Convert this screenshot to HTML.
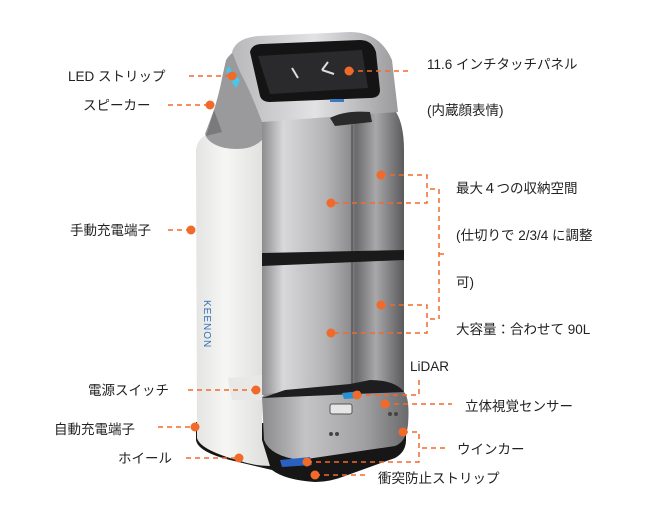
<!DOCTYPE html>
<html><head><meta charset="utf-8"><style>
html,body{margin:0;padding:0;background:#fff;}
svg{display:block}
text{font-family:"Liberation Sans","Noto Sans CJK JP",sans-serif;font-size:13.5px;fill:#222;}
</style></head><body>
<svg width="650" height="522" viewBox="0 0 650 522" xmlns="http://www.w3.org/2000/svg">
<defs>
<linearGradient id="silver" x1="0" x2="1" y1="0" y2="0">
<stop offset="0" stop-color="#8c8c8e"/><stop offset="0.15" stop-color="#d8d8da"/><stop offset="0.45" stop-color="#b4b4b6"/><stop offset="0.62" stop-color="#8e8e90"/><stop offset="0.66" stop-color="#6a6a6c"/><stop offset="0.8" stop-color="#a8a8aa"/><stop offset="1" stop-color="#5a5a5c"/>
</linearGradient>
<linearGradient id="white" x1="0" x2="1" y1="0" y2="0">
<stop offset="0" stop-color="#e4e4e2"/><stop offset="0.4" stop-color="#f6f6f4"/><stop offset="1" stop-color="#dcdcda"/>
</linearGradient>
<linearGradient id="base" x1="0" x2="1" y1="0" y2="0">
<stop offset="0" stop-color="#8a8a8c"/><stop offset="0.3" stop-color="#c4c4c6"/><stop offset="0.7" stop-color="#a0a0a2"/><stop offset="1" stop-color="#6a6a6c"/>
</linearGradient>
<linearGradient id="head" x1="0" x2="1" y1="0" y2="0">
<stop offset="0" stop-color="#b8b8ba"/><stop offset="0.5" stop-color="#e2e2e4"/><stop offset="1" stop-color="#9a9a9c"/>
</linearGradient>
</defs>

<!-- black base -->
<path d="M196,422 L196,440 Q198,452 230,460 L272,470 Q285,480 315,482 Q330,482 345,476 L395,458 Q406,452 406,440 L406,425 Z" fill="#161616"/>
<!-- white back panel -->
<path d="M196,150 Q198,135 212,134 L262,128 L262,440 L270,466 Q255,466 240,461 Q200,450 197,438 Z" fill="url(#white)"/>
<!-- handle/speaker area -->
<path d="M226,60 Q236,44 262,44 L262,140 Q250,152 225,148 Q208,144 205,134 L214,110 Q220,90 222,78 Z" fill="#9a9a9c"/>
<path d="M214,110 L222,132 L206,136 Z" fill="#7a7a7c"/>
<path d="M229,66 Q233,74 240,80 L236,88 Q230,80 226,70 Z" fill="#49c6ec"/>
<!-- main silver body -->
<path d="M262,118 L396,112 Q404,125 404,150 L404,395 L262,395 Z" fill="url(#silver)"/>
<line x1="352" y1="125" x2="352" y2="395" stroke="#5a5a5c" stroke-width="1.5"/>
<path d="M262,253 L404,250 L404,260 L262,266 Z" fill="#1a1a1a"/>
<path d="M228,378 L262,375 L262,400 L232,400 Z" fill="#e8e8e6"/>
<!-- head -->
<path d="M232,52 Q236,38 258,36 L350,32 Q380,32 392,60 L398,112 L262,122 Q250,90 240,72 Z" fill="url(#head)"/>
<path d="M250,52 Q252,44 262,44 L360,40 Q372,40 376,52 L380,90 Q380,98 370,98 L270,102 Q262,102 260,96 Z" fill="#141414"/>
<path d="M258,56 L362,50 L368,88 L270,94 Z" fill="#2a2a2c"/>
<line x1="292" y1="68" x2="298" y2="78" stroke="#ddd" stroke-width="2"/>
<path d="M322,70 L328,62 M322,70 L334,74" stroke="#ddd" stroke-width="2" fill="none"/>
<rect x="330" y="99" width="14" height="3" fill="#3a7ac0"/>
<path d="M330,118 Q345,110 370,112 L372,122 L335,126 Z" fill="#2a2a2a"/>
<!-- base silver -->
<path d="M262,398 Q262,394 272,393 L404,392 Q410,398 408,425 Q406,442 395,446 L300,460 Q270,456 264,440 Z" fill="url(#base)"/>
<path d="M262,398 L404,392 Q395,380 370,380 L350,384 L285,390 Z" fill="#1e1e20"/>
<rect x="330" y="404" width="22" height="10" rx="2" fill="#e6e6e6" stroke="#555"/>
<circle cx="331" cy="434" r="2" fill="#444"/><circle cx="337" cy="434" r="2" fill="#444"/>
<circle cx="390" cy="414" r="2" fill="#444"/><circle cx="396" cy="414" r="2" fill="#444"/>
<path d="M280,460 L310,457 L312,465 L282,467 Z" fill="#2a60c0"/>
<path d="M342,393 L360,391 L360,398 L344,399 Z" fill="#2a8ed0"/>
<text x="0" y="0" transform="translate(204,300) rotate(90)" style="font-size:10px;fill:#2f6fb8;letter-spacing:1px">KEENON</text>

<g stroke="#f26a2a" stroke-width="1.5" stroke-dasharray="5,4" fill="none">
<line x1="189" y1="76" x2="232" y2="76"/>
<line x1="168" y1="105" x2="210" y2="105"/>
<line x1="168" y1="230" x2="191" y2="230"/>
<line x1="349" y1="71" x2="412" y2="71"/>
<polyline points="381,175 427,175 427,203 331,203"/>
<polyline points="381,305 427,305 427,333 331,333"/>
<line x1="430" y1="189" x2="439" y2="189"/>
<line x1="430" y1="319" x2="439" y2="319"/>
<line x1="439" y1="189" x2="439" y2="319"/>
<line x1="439" y1="254" x2="445" y2="254"/>
<line x1="188" y1="390" x2="256" y2="390"/>
<polyline points="357,395 419,395 419,378"/>
<line x1="385" y1="404" x2="452" y2="404"/>
<line x1="158" y1="427" x2="195" y2="427"/>
<line x1="186" y1="458" x2="239" y2="458"/>
<polyline points="403,432 419,432 419,462 307,462"/>
<line x1="422" y1="448" x2="448" y2="448"/>
<line x1="315" y1="475" x2="368" y2="475"/>
</g>
<g fill="#f26a2a">
<circle cx="232" cy="76" r="4.5"/><circle cx="210" cy="105" r="4.5"/><circle cx="191" cy="230" r="4.5"/>
<circle cx="349" cy="71" r="4.5"/><circle cx="381" cy="175" r="4.5"/><circle cx="331" cy="203" r="4.5"/>
<circle cx="381" cy="305" r="4.5"/><circle cx="331" cy="333" r="4.5"/>
<circle cx="256" cy="390" r="4.5"/><circle cx="357" cy="395" r="4.5"/><circle cx="385" cy="404" r="4.5"/>
<circle cx="195" cy="427" r="4.5"/><circle cx="239" cy="458" r="4.5"/><circle cx="403" cy="432" r="4.5"/>
<circle cx="307" cy="462" r="4.5"/><circle cx="315" cy="475" r="4.5"/>
</g>

<text x="68" y="81">LED ストリップ</text>
<text x="83" y="110">スピーカー</text>
<text x="70" y="235">手動充電端子</text>
<text x="427" y="69">11.6 インチタッチパネル</text>
<text x="427" y="115">(内蔵顔表情)</text>
<text x="456" y="193">最大４つの収納空間</text>
<text x="456" y="240">(仕切りで 2/3/4 に調整</text>
<text x="456" y="287">可)</text>
<text x="456" y="334">大容量：合わせて 90L</text>
<text x="410" y="371">LiDAR</text>
<text x="88" y="395">電源スイッチ</text>
<text x="465" y="411">立体視覚センサー</text>
<text x="54" y="434">自動充電端子</text>
<text x="118" y="463">ホイール</text>
<text x="457" y="454">ウインカー</text>
<text x="378" y="483">衝突防止ストリップ</text>
</svg>
</body></html>
